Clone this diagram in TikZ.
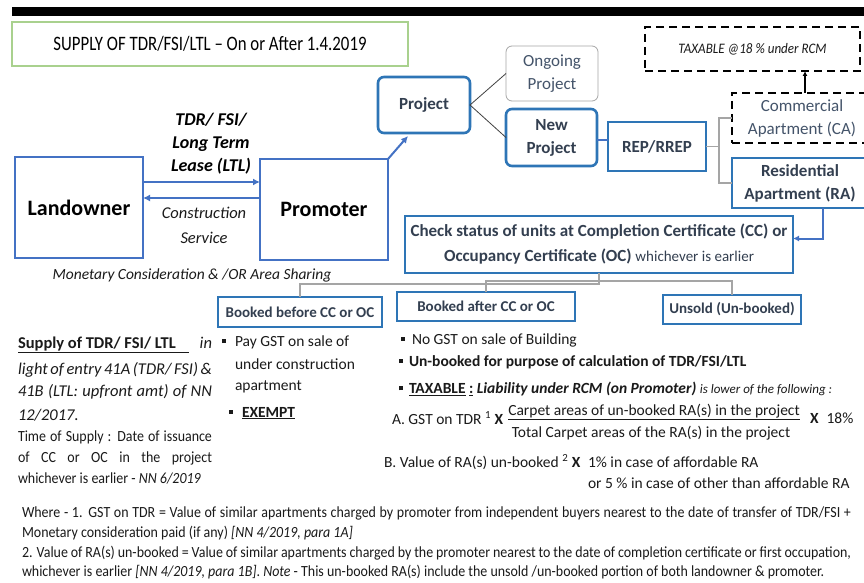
\documentclass[tikz,border=0pt]{standalone}
\usepackage{fontspec}
\setmainfont{Carlito}
\newfontfamily\titlef[FakeStretch=0.82]{Carlito}
\newfontfamily\footf[FakeStretch=0.9]{Carlito}
\usetikzlibrary{arrows.meta,calc}
\definecolor{blueA}{HTML}{4472C4}
\definecolor{blueB}{HTML}{2E75B6}
\definecolor{slate}{HTML}{333F50}
\definecolor{slatel}{HTML}{44546A}
\definecolor{grn}{HTML}{A9D18E}
\definecolor{connG}{HTML}{A5A5A5}
\definecolor{txt}{HTML}{1A1A1A}
\newcommand\sqbul{\raisebox{0.2em}{\rule{0.28em}{0.28em}}}
\begin{document}
\begin{tikzpicture}[x=1pt,y=-1pt,
  every node/.style={inner sep=0pt, outer sep=0pt, text=txt},
  bx/.style={draw=blueA, line width=2pt, rectangle, align=center, text=black, font=\fontsize{22}{26}\selectfont\bfseries},
  rbx/.style={draw=blueB, line width=2.6pt, rounded corners=6pt, align=center, text=slate, font=\fontsize{17}{23}\selectfont\bfseries},
  sbx/.style={draw=blueB, line width=2.4pt, rectangle, align=center, text=slate},
  dbx/.style={draw=black, line width=2.5pt, dash pattern=on 8pt off 5pt, rectangle, align=center},
  arr/.style={draw=blueA, line width=2pt, -{Latex[length=7pt,width=7pt]}},
  conn/.style={draw=connG, line width=1.2pt},
  body/.style={font=\fontsize{15.5}{18}\selectfont, anchor=west},
  foot/.style={font=\footf\fontsize{15.5}{18}\selectfont, anchor=west}
]
\useasboundingbox (0,0) rectangle (864,583);
\fill[white] (0,0) rectangle (864,583);
\fill[black] (12,7) rectangle (864,16);

% title
\node[draw=grn, line width=1.2pt, minimum width=396pt, minimum height=44pt, text=black, font=\titlef\fontsize{20.5}{24}\selectfont] (title) at (210,44) {SUPPLY OF TDR/FSI/LTL – On or After 1.4.2019};

% top right boxes
\node[dbx, minimum width=215pt, minimum height=44pt, font=\footf\fontsize{14.5}{16}\selectfont\itshape] (tax) at (752.5,49) {TAXABLE @18 \% under RCM};
\node[dbx, minimum width=140pt, minimum height=50pt, text=slatel, font=\fontsize{17}{23}\selectfont] (ca) at (802,118) {Commercial\\Apartment (CA)};
\node[sbx, minimum width=136pt, minimum height=50pt, font=\fontsize{17}{23}\selectfont\bfseries] (ra) at (800,183) {Residential\\Apartment (RA)};
\node[sbx, minimum width=98pt, minimum height=49pt, font=\fontsize{17}{20}\selectfont\bfseries] (rep) at (657,146.5) {REP/RREP};
\node[rbx, minimum width=91pt, minimum height=57pt] (new) at (551.5,137.5) {New\\Project};
\node[draw=gray!70, line width=0.8pt, rounded corners=6pt, minimum width=92pt, minimum height=55pt, align=center, text=slatel, font=\fontsize{17}{23}\selectfont] (ong) at (552,73.5) {Ongoing\\Project};
\node[rbx, minimum width=92pt, minimum height=56pt] (proj) at (424,105) {Project};

% main boxes
\node[bx, minimum width=128pt, minimum height=101pt] (land) at (79,207.5) {Landowner};
\node[bx, minimum width=128pt, minimum height=101pt] (prom) at (324,209.5) {Promoter};

\node[sbx, minimum width=388pt, minimum height=57pt, font=\fontsize{17}{25}\selectfont] (chk) at (599,244.5) {\textbf{Check status of units at Completion Certificate (CC) or}\\\textbf{Occupancy Certificate (OC)} {\fontsize{15}{25}\selectfont whichever is earlier}};

\node[sbx, minimum width=164pt, minimum height=30pt, font=\fontsize{15}{18}\selectfont\bfseries] (bef) at (300,312) {Booked before CC or OC};
\node[sbx, minimum width=178pt, minimum height=29pt, font=\fontsize{15}{18}\selectfont\bfseries] (aft) at (486,306.5) {Booked after CC or OC};
\node[sbx, minimum width=138pt, minimum height=29pt, font=\fontsize{15}{18}\selectfont\bfseries] (uns) at (732,309.5) {Unsold (Un-booked)};

% labels between landowner and promoter
\node[font=\fontsize{18}{23}\selectfont\bfseries\itshape, align=center, text=black] (tdr) at (211,144) {TDR/ FSI/\\Long Term\\Lease (LTL)};
\node[font=\fontsize{16.5}{25}\selectfont\itshape, align=center] (cs) at (204,225.5) {Construction\\Service};
\node[font=\fontsize{15.5}{18}\selectfont\itshape] (mon) at (192,275) {Monetary Consideration \& /OR Area Sharing};

% connectors
\draw[arr] ([yshift=25.5pt]land.east) -- ([yshift=25.5pt]land.east -| prom.west);
\draw[arr] ([yshift=11.5pt]prom.west) -- ([yshift=11.5pt]prom.west -| land.east);
\draw[arr] (prom.north east) -- ([xshift=-16pt,yshift=-3pt]proj.south);
\draw[draw=darkgray, line width=0.8pt] (ong.west) -- (proj.east) -- (new.west);
\draw[draw=blueA, line width=2.2pt] ([yshift=-2.5pt]new.east) -- ([yshift=-2.5pt]new.east -| rep.west);
\draw[conn] (rep.east) -- ++(13,0) coordinate (rj) |- (ca.west);
\draw[conn] (rj) |- (ra.west);
\draw[black, line width=1.5pt, -{Latex[length=5pt,width=5pt]}] ([xshift=3pt]ca.north) -- ([xshift=3pt]ca.north |- tax.south);
\draw[draw=blueA, line width=2pt, -{Latex[length=6pt,width=6pt]}] ([xshift=23pt]ra.south) |- ([yshift=6pt]chk.east);
\draw[conn] (chk.south) -- ++(0,11) -| (bef.north);
\draw[conn] (chk.south) -- ++(0,8) -| (aft.north);
\draw[conn] (chk.south) -- ++(0,8) -| (uns.north);

% left paragraph
\node[anchor=west, font=\fontsize{16.5}{20}\selectfont] (s1) at (18,345) {\makebox[194pt][s]{\underline{\textbf{Supply of TDR/ FSI/ LTL}\hspace{13pt}} \textit{in}}};
\node[anchor=west, font=\fontsize{16.5}{20}\selectfont\itshape] (s2) at (18,370) {\makebox[194pt][s]{light of entry 41A (TDR/ FSI) \&}};
\node[anchor=west, font=\fontsize{16.5}{20}\selectfont\itshape] (s3) at (18,392) {\makebox[194pt][s]{41B (LTL: upfront amt) of NN}};
\node[anchor=west, font=\fontsize{16.5}{20}\selectfont\itshape] (s4) at (18,415) {12/2017.};
\node[foot] (t1) at (18,437) {\makebox[194pt][s]{Time of Supply : Date of issuance}};
\node[foot] (t2) at (18,458) {\makebox[194pt][s]{of CC or OC in the project}};
\node[foot] (t3) at (18,478) {whichever is earlier - \textit{NN 6/2019}};

% middle bullets
\node[body] (m1) at (222,342) {\makebox[13pt][l]{\sqbul}Pay GST on sale of};
\node[body] (m2) at (235,364) {under construction};
\node[body] (m3) at (235,387) {apartment};
\node[body] (m4) at (229,413) {\makebox[13pt][l]{\sqbul}\textbf{\underline{EXEMPT}}};

% right bullets
\node[body] (r1) at (401,340) {\makebox[11pt][l]{\sqbul}No GST on sale of Building};
\node[body] (r2) at (399,362) {\makebox[10pt][l]{\sqbul}\textbf{Un-booked for purpose of calculation of TDR/FSI/LTL}};
\node[body] (r3) at (399,389) {\makebox[10pt][l]{\sqbul}\textbf{\underline{TAXABLE}\ \underline{:}} \textbf{\textit{Liability under RCM (on Promoter)}} {\fontsize{13}{15}\selectfont\itshape is lower of the following :}};
\node[body] (ra1) at (392,418) {A. GST on TDR \textsuperscript{1} \textbf{X}};
\node[font=\fontsize{15.5}{18}\selectfont] (num) at (654,412) {\underline{Carpet areas of un-booked RA(s) in the project}};
\node[font=\fontsize{15.5}{18}\selectfont] (den) at (651,433) {Total Carpet areas of the RA(s) in the project};
\node[body] (pct) at (810,418) {\textbf{X}\hspace{8pt}18\%};
\node[body] (rb1) at (384,462) {B. Value of RA(s) un-booked \textsuperscript{2} \textbf{X}};
\node[body] (rb2) at (588,462) {1\% in case of affordable RA};
\node[body] (rb3) at (588,483) {or 5 \% in case of other than affordable RA};

% footnotes
\node[foot] (f1) at (22,513) {\makebox[829pt][s]{Where - 1. GST on TDR = Value of similar apartments charged by promoter from independent buyers nearest to the date of transfer of TDR/FSI +}};
\node[foot] (f2) at (22,533) {Monetary consideration paid (if any) \textit{[NN 4/2019, para 1A]}};
\node[foot] (f3) at (22,553) {\makebox[829pt][s]{2. Value of RA(s) un-booked = Value of similar apartments charged by the promoter nearest to the date of completion certificate or first occupation,}};
\node[foot] (f4) at (22,572) {whichever is earlier \textit{[NN 4/2019, para 1B]}. \textit{Note} - This un-booked RA(s) include the unsold /un-booked portion of both landowner \& promoter.};
\end{tikzpicture}
\end{document}
